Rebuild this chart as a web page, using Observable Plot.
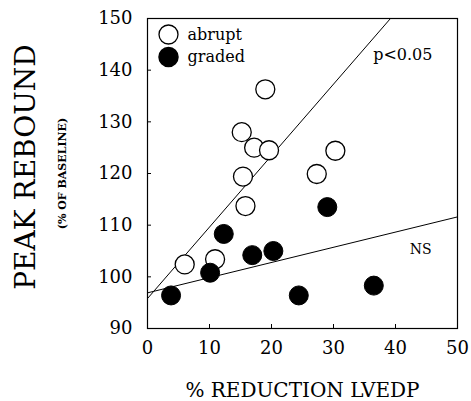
<!DOCTYPE html>
<html><head><meta charset="utf-8">
<script src="https://cdn.jsdelivr.net/npm/d3@7"></script>
<script src="https://cdn.jsdelivr.net/npm/@observablehq/plot@0.6"></script>
<style>body{margin:0;background:#fff}</style>
</head><body><div id="chart"></div>
<script>
// Data
const abruptX = [19.0, 15.2, 17.2, 19.6, 15.4, 27.3, 30.3, 15.8, 6.0, 10.9];
const abruptY = [136.3, 128.0, 125.0, 124.5, 119.4, 119.9, 124.4, 113.7, 102.4, 103.4];
const gradedX = [3.8, 10.1, 12.3, 16.9, 20.3, 24.4, 29.0, 36.5];
const gradedY = [96.4, 100.8, 108.3, 104.2, 105.0, 96.4, 113.5, 98.3];
// Regression lines (intercept, slope) as drawn
const fitGroups = ["abrupt", "graded"];
const fitIntercepts = [95.8, 96.9];
const fitSlopes = [1.383, 0.294];
const fitLabels = ["p<0.05", "NS"];
const fitLabelX = [36.4, 42.3];
const fitLabelY = [142.9, 105.2];
const xTicks = [0, 10, 20, 30, 40, 50];
const yTicks = [90, 100, 110, 120, 130, 140, 150];
const xDomain = [0, 50];
const yDomain = [90, 150];

const abrupt = abruptX.map((x, i) => ({x, y: abruptY[i]}));
const graded = gradedX.map((x, i) => ({x, y: gradedY[i]}));
const fitLines = fitGroups.flatMap((g, i) => xDomain.map(x => ({group: g, x, y: fitIntercepts[i] + fitSlopes[i] * x})));
const labels = fitLabels.map((t, i) => ({text: t, x: fitLabelX[i], y: fitLabelY[i]}));

const serif = "DejaVu Serif";
const R = 9.5;

const chart = Plot.plot({
  width: 471,
  height: 401,
  marginLeft: 147,
  marginRight: 14,
  marginTop: 18,
  marginBottom: 73,
  style: {fontFamily: serif, background: "#fff", color: "#000"},
  x: {domain: xDomain, ticks: xTicks},
  y: {domain: yDomain, ticks: yTicks},
  marks: [
    Plot.frame({stroke: "#000", strokeWidth: 1.2}),
    Plot.axisX({ticks: xTicks, tickSize: -4, tickPadding: 17, fontSize: 18, label: null, tickFormat: d => String(d)}),
    Plot.axisY({ticks: yTicks, tickSize: -4, tickPadding: 19, fontSize: 18, label: null, tickFormat: d => String(d)}),
    Plot.line(fitLines, {x: "x", y: "y", z: "group", stroke: "#000", strokeWidth: 1, clip: true}),
    Plot.dot(abrupt, {x: "x", y: "y", r: R, fill: "#fff", stroke: "#000", strokeWidth: 1.3}),
    Plot.dot(graded, {x: "x", y: "y", r: R, fill: "#000", stroke: "#000", strokeWidth: 1}),
    Plot.text(labels, {x: "x", y: "y", text: "text", textAnchor: "start", fontSize: d => d.text === "NS" ? 14 : 16}),
    // legend
    Plot.dot(["abrupt"], {frameAnchor: "top-left", dx: 21, dy: 16, r: R, fill: "#fff", stroke: "#000", strokeWidth: 1.3}),
    Plot.dot(["graded"], {frameAnchor: "top-left", dx: 21, dy: 38.5, r: R, fill: "#000", stroke: "#000"}),
    Plot.text(["abrupt"], {frameAnchor: "top-left", dx: 40, dy: 16, text: d => d, textAnchor: "start", lineAnchor: "middle", fontSize: 16}),
    Plot.text(["graded"], {frameAnchor: "top-left", dx: 40, dy: 38.5, text: d => d, textAnchor: "start", lineAnchor: "middle", fontSize: 16}),
    // axis titles
    Plot.text(["% REDUCTION LVEDP"], {frameAnchor: "bottom", dy: 62, text: d => d, textAnchor: "middle", lineAnchor: "middle", fontSize: 20}),
    Plot.text(["PEAK REBOUND"], {frameAnchor: "left", dx: -121, dy: -6.5, rotate: -90, text: d => d, textAnchor: "middle", lineAnchor: "middle", fontSize: 28}),
    Plot.text(["(% OF BASELINE)"], {frameAnchor: "left", dx: -85, dy: 0, rotate: -90, text: d => d, textAnchor: "middle", lineAnchor: "middle", fontSize: 11, fontWeight: "bold"})
  ]
});
document.getElementById("chart").append(chart);
</script>
</body></html>
